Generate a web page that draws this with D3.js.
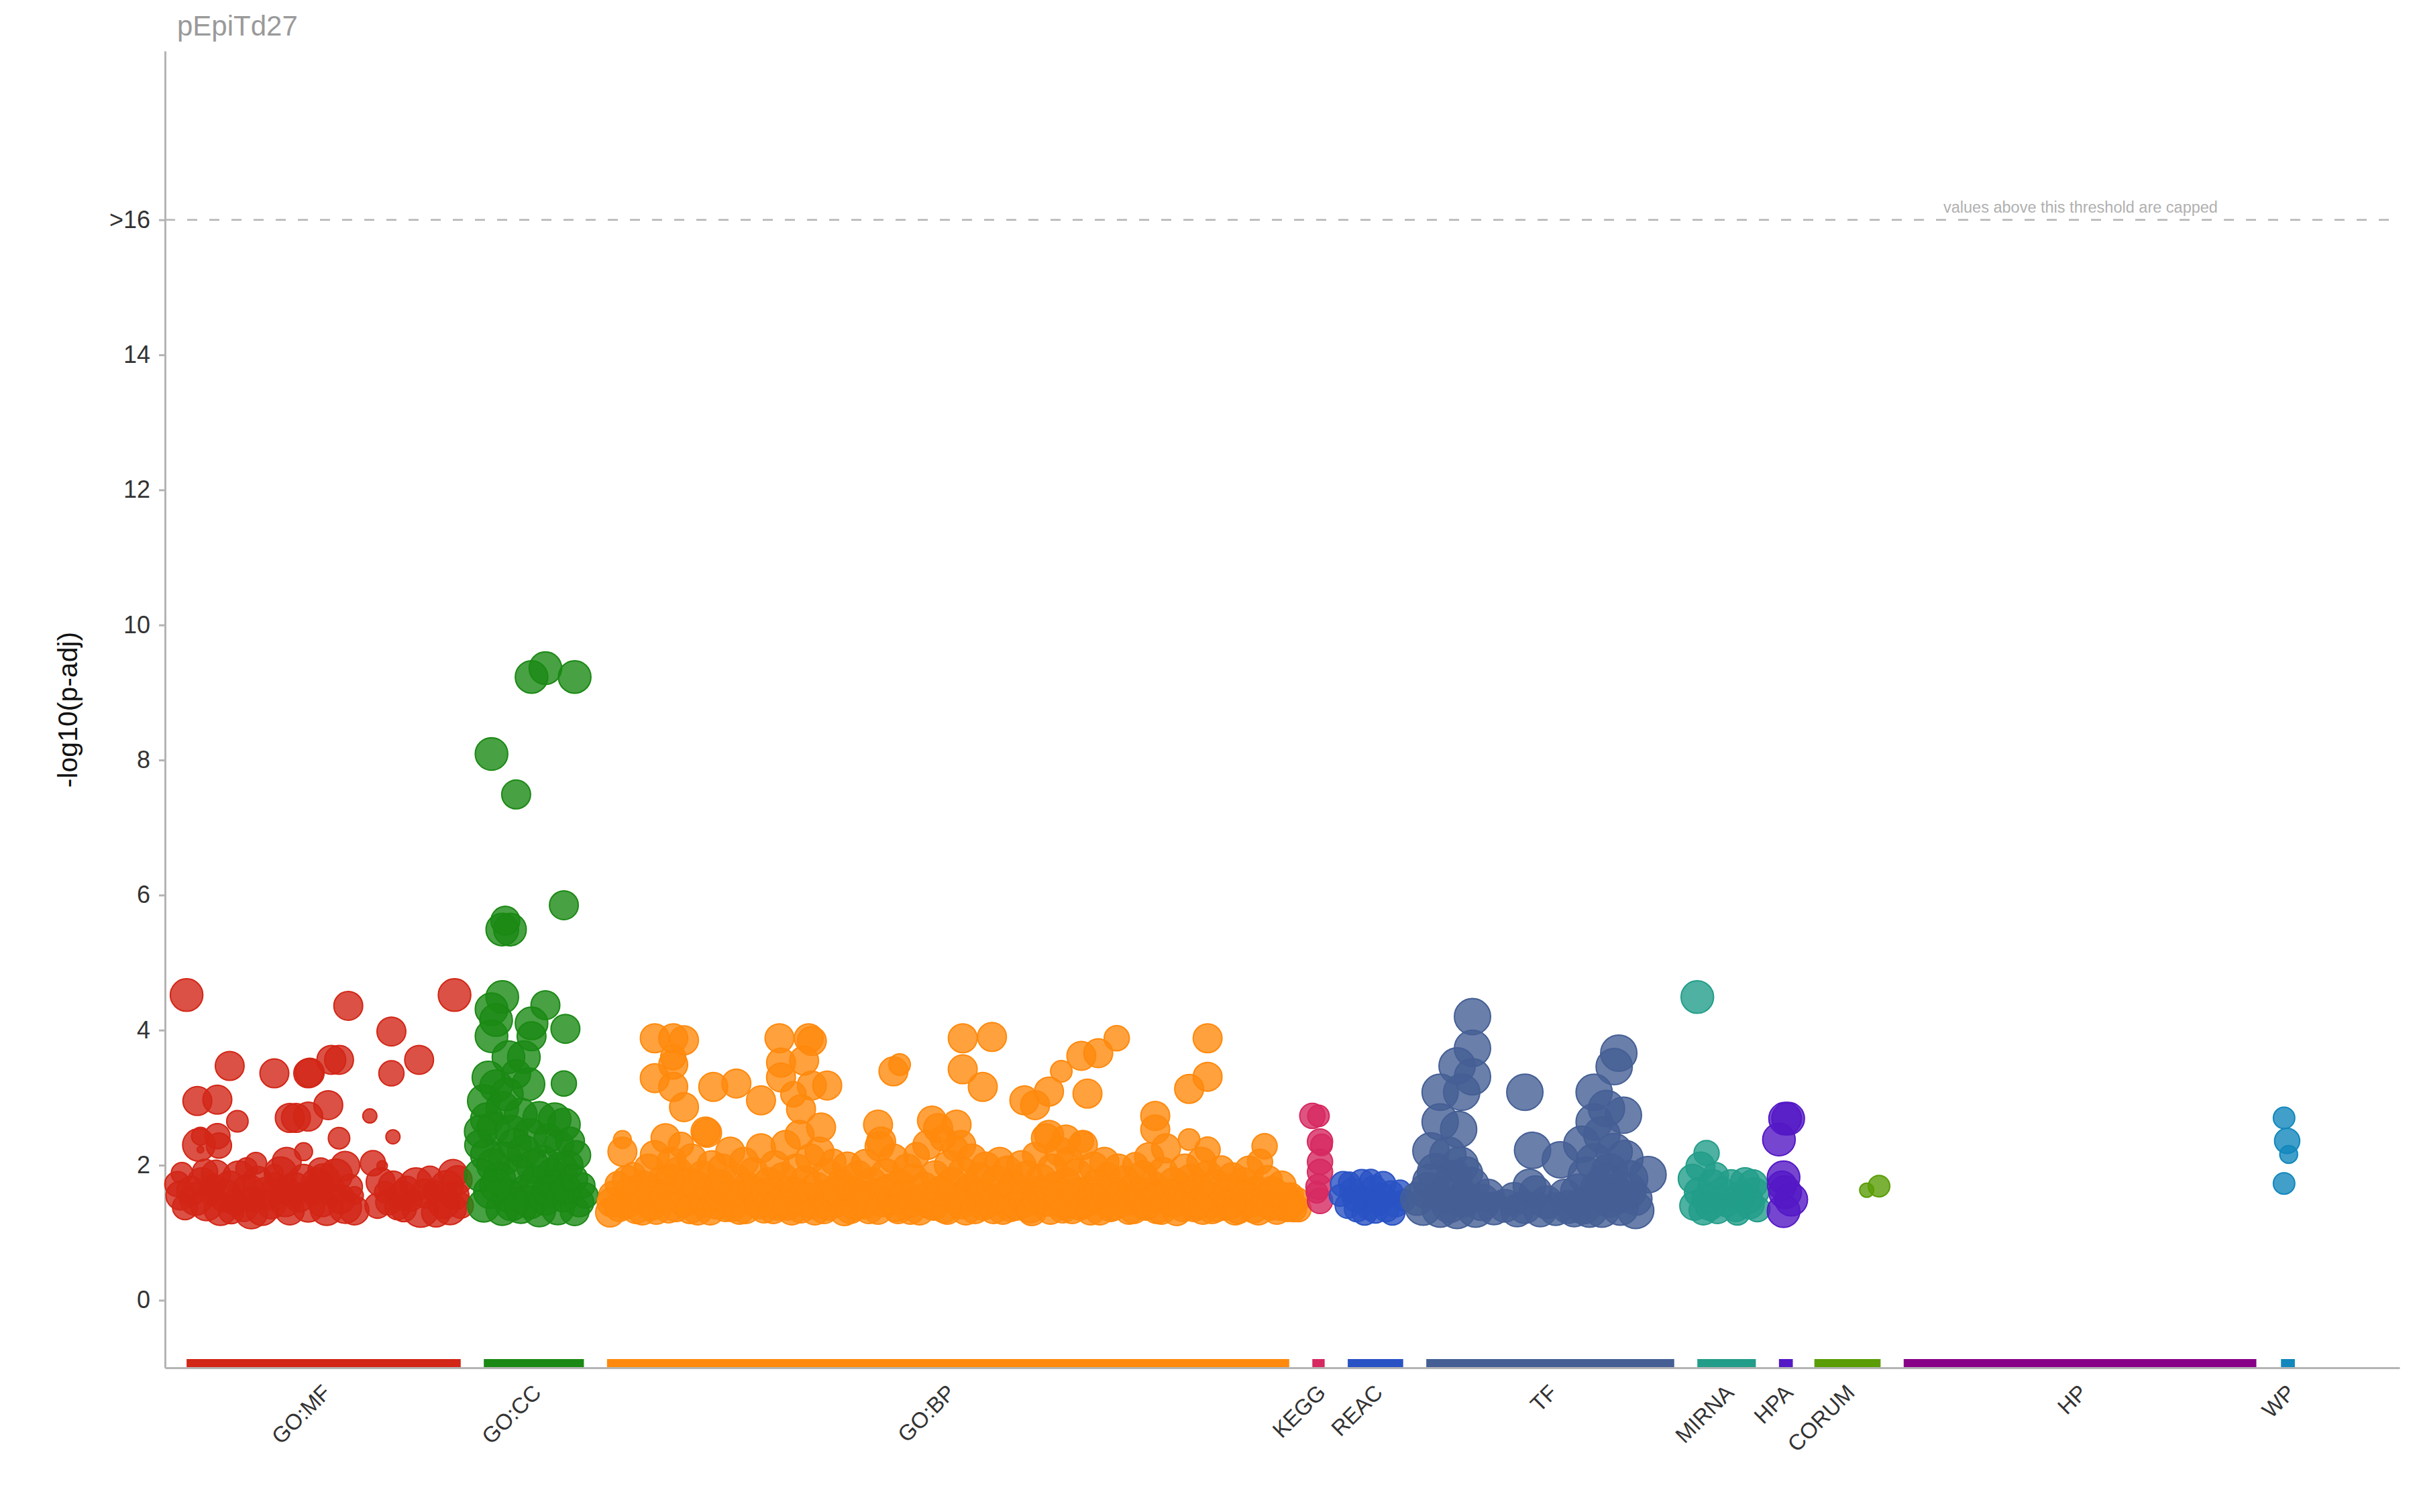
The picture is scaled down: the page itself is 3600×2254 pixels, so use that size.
<!DOCTYPE html>
<html><head><meta charset="utf-8">
<script src="https://cdn.jsdelivr.net/npm/d3@7"></script>
<style>body{margin:0;background:#fff}svg{display:block}</style>
</head><body>
<svg id="chart" width="3600" height="2254"></svg>
<script>
// ---------- data ----------
const chartTitle = "pEpiTd27";
const yAxisTitle = "-log10(p-adj)";
const cappedNote = "values above this threshold are capped";
const capValue = 16;
const yTickValues = [0, 2, 4, 6, 8, 10, 12, 14, 16];
const yTickLabels = ["0", "2", "4", "6", "8", "10", "12", "14", ">16"];
const yDomain = [-1, 18.5];
// term position index along the x axis
const xDomain = [107, 1558];
const sources = ["GO:MF", "GO:CC", "GO:BP", "KEGG", "REAC", "TF", "MIRNA", "HPA", "CORUM", "HP", "WP"];
const sourceStart = [121, 314, 394, 852, 875, 926, 1102, 1155, 1178, 1236, 1481];
const sourceEnd   = [299, 379, 837, 860, 911, 1087, 1140, 1164, 1221, 1465, 1490];
const sourceColors = ["#d22616", "#1a8914", "#ff890c", "#d62961", "#2952c4", "#455f95", "#229d89", "#5418c6", "#5a9d06", "#870087", "#1287bd"];

// each term: [position, -log10(p-adj), size class]
const goMF = [
[121,4.52,8],[226,4.36,7],[254,3.98,7],[295,4.52,8],[149,3.47,7],[178,3.36,7],[200,3.36,7],[201,3.37,7],
[215,3.56,7],[220,3.56,7],[254,3.36,6],[272,3.56,7],[128,2.95,7],[141,2.97,7],[154,2.65,5],[213,2.89,7],
[188,2.70,7],[192,2.70,7],[200,2.72,7],[240,2.73,3],[255,2.42,3],[220,2.40,5],[129,2.30,8],[130,2.43,4],
[141,2.43,6],[142,2.29,6],[130,2.23,1],[166,2.03,5],[197,2.20,4],[186,2.05,7],[224,1.99,7],[242,2.03,6],[248,1.99,2],
[115,1.72,6],[117,1.55,7],[120,1.38,6],[124,1.62,7],[127,1.50,8],[131,1.75,7],[134,1.42,8],[137,1.60,6],
[140,1.86,7],[143,1.35,8],[146,1.55,8],[149,1.70,7],[152,1.45,6],[155,1.82,8],[158,1.38,7],[161,1.62,8],
[164,1.50,6],[167,1.77,7],[170,1.35,8],[173,1.58,8],[176,1.42,7],[179,1.70,6],[182,1.88,8],[185,1.48,8],
[188,1.33,7],[191,1.65,8],[194,1.52,7],[197,1.80,7],[200,1.40,8],[203,1.60,6],[206,1.72,8],[209,1.45,7],
[212,1.35,8],[215,1.62,7],[218,1.85,8],[221,1.50,7],[224,1.38,8],[227,1.68,6],[230,1.55,4],[247,1.75,7],
[250,1.60,5],[252,1.45,6],[255,1.70,7],[258,1.38,6],[261,1.55,7],[264,1.65,6],[267,1.48,5],[270,1.72,8],
[273,1.35,9],[276,1.58,7],[279,1.80,6],[281,1.62,5],[288,1.45,8],[290,1.68,8],[292,1.36,8],[295,1.55,7],
[297,1.78,7],[299,1.40,6],[294,1.87,7],[133,1.90,6],[160,1.95,5],[178,1.88,4],[208,1.92,6],[150,1.32,6],
[230,1.33,7],[118,1.88,5],[138,1.68,6],[163,1.30,8],[185,1.63,7],[210,1.78,8],[262,1.35,6],[283,1.30,7],[245,1.40,6]
];
const goCC = [
[345,9.23,8],[354,9.36,8],[373,9.23,8],[319,8.09,8],[335,7.49,7],[366,5.85,7],[326,5.49,8],[331,5.49,8],[328,5.62,7],
[326,4.49,8],[319,4.31,8],[354,4.37,7],[367,4.02,7],[345,3.91,7],[366,3.21,6],[319,3.91,8],[322,4.15,8],[345,4.10,8],
[330,3.60,8],[340,3.60,8],[322,3.17,8],[343,3.20,8],[335,3.35,7],[316,2.68,8],[360,2.68,8],[366,2.60,8],[311,2.30,7],
[363,2.30,7],[352,2.17,1],[369,2.00,7],[378,1.70,6],
[314,2.95,8],[326,2.85,8],[338,2.75,8],[350,2.70,8],[320,2.55,8],[332,2.50,8],[344,2.45,8],[356,2.40,7],[370,2.35,7],
[316,2.15,8],[328,2.10,8],[340,2.20,8],[352,2.05,8],[364,1.95,8],[374,2.15,7],[312,1.85,8],[324,1.80,8],[336,1.90,8],
[348,1.75,8],[360,1.70,8],[372,1.80,7],[318,1.60,8],[330,1.55,8],[342,1.62,8],[354,1.50,8],[366,1.55,8],[376,1.45,7],
[314,1.40,8],[326,1.35,8],[338,1.38,8],[350,1.33,8],[362,1.36,8],[373,1.32,7],[320,2.00,8],[334,2.30,8],[346,1.98,8],
[358,1.88,7],[368,1.65,7],[322,1.70,8],[344,1.45,8],[332,1.42,8],[356,1.62,8],[317,3.30,8],[329,3.05,8],[312,2.50,8],[380,1.55,6]
];
const goBP = [
[425,3.88,7],[437,3.88,7],[444,3.85,7],[437,3.49,7],[425,3.29,7],[437,3.16,7],[444,2.86,7],[437,3.60,6],[463,3.16,7],
[478,3.21,7],[494,2.96,7],[506,3.88,7],[507,3.52,7],[507,3.30,7],[525,3.88,7],[527,3.84,7],[527,3.18,7],[537,3.18,7],
[520,2.83,7],[533,2.56,7],[522,3.55,7],[515,3.05,6],[459,2.48,7],[404,2.38,4],[404,2.20,7],[580,3.39,7],[584,3.49,5],
[570,2.60,7],[572,2.35,7],[605,2.66,7],[621,2.60,7],[625,3.88,7],[644,3.90,7],[625,3.42,7],[638,3.16,7],[665,2.96,7],
[672,2.89,7],[681,3.09,7],[689,3.39,5],[702,3.62,7],[713,3.66,7],[725,3.88,6],[706,3.06,7],[681,2.45,7],[692,2.38,7],
[703,2.35,5],[750,2.73,7],[750,2.53,7],[772,3.13,7],[784,3.31,7],[784,3.88,7],[772,2.38,5],[784,2.23,6],[821,2.28,6],
[818,2.05,6],[612,2.40,6],[624,2.30,7],
[396,1.30,7],[398,1.55,7],[401,1.72,6],[406,1.42,7],[409,1.62,7],[411,1.85,6],[413,1.35,7],[416,1.50,7],[418,1.70,7],
[421,1.95,7],[423,1.40,7],[425,2.15,7],[427,1.58,7],[430,1.78,7],[432,2.40,7],[434,1.36,7],[436,2.05,7],[438,1.65,7],
[440,1.90,7],[442,2.30,6],[444,1.45,7],[447,1.75,7],[449,2.10,7],[451,1.55,7],[453,1.33,7],[456,1.85,7],[458,2.50,7],
[460,1.62,7],[462,2.00,7],[465,1.42,7],[467,1.72,7],[469,1.95,7],[471,1.38,7],[474,2.20,7],[476,1.58,7],[478,1.80,7],
[480,1.34,7],[483,2.05,7],[485,1.68,7],[487,1.48,7],[489,1.90,7],[492,1.60,7],[494,2.25,7],[496,1.36,7],[499,1.75,7],
[501,1.52,7],[503,2.00,7],[505,1.40,7],[508,1.82,7],[510,2.30,7],[512,1.62,7],[514,1.33,7],[517,1.95,7],[519,2.45,7],
[521,1.55,7],[523,1.78,7],[526,2.10,7],[528,1.42,7],[530,1.68,7],[532,2.20,7],[535,1.35,7],[537,1.88,7],[539,1.58,7],
[541,2.05,6],[544,1.46,7],[546,1.72,7],[548,1.32,7],[550,1.98,7],[553,1.62,7],[555,1.40,7],[557,1.85,7],[559,1.52,7],
[562,2.02,7],[564,1.35,7],[566,1.75,7],[568,1.58,7],[571,2.28,7],[573,1.45,7],[575,1.88,7],[577,1.65,7],[580,2.10,7],
[582,1.38,7],[584,1.72,7],[586,1.55,7],[589,1.95,7],[591,1.34,7],[593,1.80,7],[595,2.15,6],[598,1.50,7],[600,1.68,7],
[602,2.30,7],[604,1.42,7],[607,1.85,7],[609,2.55,7],[611,1.60,7],[613,1.36,7],[616,2.00,7],[618,1.75,7],[620,2.25,6],
[622,1.48,7],[625,1.90,7],[627,1.33,7],[629,1.65,7],[631,2.10,7],[634,1.55,7],[636,1.82,7],[638,1.40,7],[640,1.98,7],
[643,1.62,7],[645,1.35,7],[647,1.78,7],[649,2.05,7],[652,1.50,7],[654,1.92,7],[656,1.38,7],[658,1.70,7],[661,1.58,7],
[663,2.00,7],[665,1.44,7],[667,1.85,7],[670,1.32,7],[672,2.15,6],[674,1.62,7],[676,1.80,7],[679,2.40,7],[681,1.46,7],
[683,1.95,7],[685,1.68,7],[688,2.20,7],[690,1.36,7],[692,1.75,7],[694,2.05,7],[697,1.52,7],[699,1.88,7],[701,1.40,7],
[703,2.30,7],[706,1.62,7],[708,1.33,7],[710,1.98,7],[712,1.72,7],[715,1.48,7],[717,2.05,7],[719,1.85,6],[721,1.38,7],
[724,1.60,7],[726,1.95,7],[728,1.45,7],[730,1.78,7],[733,1.34,7],[735,1.65,7],[737,2.00,6],[739,1.52,7],[742,1.85,7],
[744,1.40,7],[746,2.12,7],[748,1.70,7],[751,1.35,7],[753,1.58,7],[755,1.90,7],[757,2.25,7],[760,1.45,7],[762,1.75,7],
[764,1.32,7],[766,1.62,7],[769,1.95,7],[771,1.48,7],[773,1.80,7],[775,1.38,7],[778,1.68,7],[780,2.05,7],[782,1.55,7],
[784,1.85,7],[787,1.35,7],[789,1.72,7],[791,1.50,7],[793,1.95,6],[796,1.40,7],[798,1.65,7],[800,1.82,7],[802,1.33,7],
[805,1.58,7],[807,1.75,7],[809,1.45,7],[811,1.92,7],[814,1.36,7],[816,1.62,7],[818,1.48,7],[823,1.78,7],[825,1.40,7],
[827,1.58,7],[829,1.34,7],[832,1.70,7],[834,1.45,7],[836,1.38,7],[838,1.55,6],[840,1.35,6],[842,1.48,6],
[397,1.45,7],[402,1.38,7],[407,1.78,7],[412,1.55,7],[417,1.33,7],[422,1.62,7],[426,1.34,7],[431,1.52,7],[435,1.80,7],
[439,1.38,7],[443,1.62,7],[448,1.35,7],[452,1.70,7],[457,1.45,7],[461,1.33,7],[466,1.55,7],[470,1.62,7],[475,1.38,7],
[479,1.55,7],[484,1.35,7],[488,1.62,7],[493,1.42,7],[497,1.58,7],[502,1.35,7],[507,1.48,7],[511,1.40,7],[516,1.60,7],
[520,1.36,7],[525,1.52,7],[529,1.33,7],[534,1.55,7],[538,1.40,7],[543,1.62,7],[547,1.48,7],[552,1.35,7],[556,1.58,7],
[561,1.42,7],[565,1.52,7],[570,1.34,7],[574,1.60,7],[579,1.48,7],[583,1.35,7],[588,1.55,7],[592,1.45,7],[597,1.33,7],
[601,1.52,7],[606,1.40,7],[610,1.62,7],[615,1.34,7],[619,1.50,7],[624,1.42,7],[628,1.55,7],[633,1.35,7],[637,1.58,7],
[642,1.45,7],[646,1.50,7],[651,1.34,7],[655,1.60,7],[660,1.40,7],[664,1.52,7],[669,1.36,7],[673,1.48,7],[678,1.58,7],
[682,1.34,7],[687,1.55,7],[691,1.42,7],[696,1.35,7],[700,1.60,7],[705,1.45,7],[709,1.52,7],[714,1.33,7],[718,1.58,7],
[723,1.40,7],[727,1.55,7],[732,1.48,7],[736,1.35,7],[741,1.60,7],[745,1.42,7],[750,1.52,7],[754,1.34,7],[759,1.58,7],
[763,1.45,7],[768,1.38,7],[772,1.55,7],[777,1.42,7],[781,1.34,7],[786,1.52,7],[790,1.38,7],[795,1.58,7],[799,1.42,7],
[804,1.35,7],[808,1.55,7],[813,1.45,7],[817,1.33,7],[822,1.50,7],[826,1.62,7],[831,1.40,7],[835,1.52,7],[839,1.42,6],[843,1.35,6]
];
const kegg = [[852,2.73,6],[856,2.73,5],[857,2.35,6],[858,2.30,5],[857,2.05,6],[857,1.90,6],[856,1.68,6],[857,1.47,6],[855,1.60,5]];
const reac = [
[872,1.72,6],[875,1.40,6],[878,1.62,6],[881,1.35,6],[884,1.75,6],[887,1.50,6],[889,1.38,6],[892,1.66,6],[895,1.45,6],
[898,1.72,6],[900,1.35,6],[903,1.58,6],[906,1.42,6],[909,1.62,5],[870,1.55,5],[880,1.50,6],[886,1.30,6],[893,1.33,6],
[897,1.55,6],[904,1.30,6],[912,1.48,5],[876,1.74,5],[890,1.78,5]
];
const tf = [
[956,4.20,9],[956,3.73,9],[946,3.47,9],[956,3.31,9],[935,3.08,9],[949,3.08,9],[935,2.64,9],[947,2.53,9],[929,2.21,9],
[940,2.15,9],[948,2.00,9],[932,1.90,9],[944,1.80,9],[955,1.70,9],[927,1.62,9],[938,1.55,9],[950,1.50,9],[962,1.45,9],
[924,1.38,9],[935,1.35,9],[946,1.33,9],[958,1.35,9],[970,1.36,8],[977,1.40,8],[929,1.75,9],[952,1.88,8],[941,1.42,9],
[966,1.55,8],[920,1.50,8],
[990,3.08,9],[995,2.22,9],[1013,2.08,9],[983,1.50,8],[990,1.38,8],[997,1.60,8],[1004,1.45,8],[1010,1.35,8],[1016,1.55,8],
[985,1.33,8],[1000,1.33,8],[1018,1.38,8],[993,1.70,8],
[1051,3.66,9],[1048,3.46,9],[1035,3.08,9],[1043,2.84,9],[1054,2.74,9],[1035,2.64,9],[1027,2.31,9],[1070,1.86,9],[1040,2.45,9],
[1048,2.20,9],[1035,2.05,9],[1055,2.10,9],[1030,1.85,9],[1045,1.90,9],[1058,1.80,9],[1025,1.60,9],[1038,1.65,9],[1050,1.55,9],
[1062,1.50,8],[1028,1.40,9],[1040,1.35,9],[1052,1.38,9],[1062,1.33,9],[1032,1.35,9],[1045,1.50,9],[1057,1.62,9],[1022,1.33,8],[1042,1.75,9]
];
const mirna = [
[1102,4.49,8],[1108,2.18,6],[1104,1.98,7],[1099,1.80,7],[1103,1.60,7],[1100,1.40,7],[1108,1.50,7],[1112,1.72,7],[1115,1.35,7],
[1118,1.60,7],[1121,1.45,7],[1124,1.72,7],[1127,1.38,7],[1130,1.55,7],[1133,1.75,7],[1136,1.42,7],[1139,1.60,7],[1141,1.35,6],
[1106,1.33,7],[1114,1.85,6],[1128,1.30,6],[1135,1.50,7],[1110,1.40,7],[1138,1.72,7]
];
const hpa = [[1159,2.69,8],[1161,2.69,8],[1155,2.38,8],[1158,1.82,8],[1163,1.49,8],[1158,1.32,8],[1159,1.60,8],[1157,1.70,7]];
const corum = [[1212,1.63,3],[1220,1.69,5]];
const hp = [];
const wp = [[1483,2.70,5],[1485,2.36,6],[1486,2.16,4],[1483,1.73,5]];
const sourceTerms = [goMF, goCC, goBP, kegg, reac, tf, mirna, hpa, corum, hp, wp];

// ---------- drawing ----------
const FONT = "'Liberation Sans', Arial, Helvetica, sans-serif";
const svg = d3.select("#chart").style("font-family", FONT);
const plot = {left: 246, right: 3577, top: 76, bottom: 2039};
const x = d3.scaleLinear().domain(xDomain).range([plot.left, plot.right]);
const y = d3.scaleLinear().domain(yDomain).range([plot.bottom, plot.top]);
const r = d3.scaleLinear().domain([1, 9]).range([5, 27]);
const axisGrey = "#b4b4b4";

svg.append("rect").attr("width", 3600).attr("height", 2254).attr("fill", "#fff");

// title
svg.append("text").attr("x", 264).attr("y", 53)
  .attr("font-size", 42).attr("fill", "#9a9a9a").text(chartTitle);

// capped threshold line
svg.append("line")
  .attr("x1", plot.left).attr("x2", 3567)
  .attr("y1", y(capValue)).attr("y2", y(capValue))
  .attr("stroke", axisGrey).attr("stroke-width", 2.5).attr("stroke-dasharray", "15,18");
svg.append("text").attr("x", 2897).attr("y", y(capValue) - 11)
  .attr("font-size", 23.5).attr("fill", "#b0b0b0").text(cappedNote);

// source bars
svg.append("g").selectAll("rect").data(sources).join("rect")
  .attr("x", (d, i) => x(sourceStart[i]))
  .attr("width", (d, i) => x(sourceEnd[i]) - x(sourceStart[i]))
  .attr("y", y(yDomain[0]) - 13).attr("height", 13)
  .attr("fill", (d, i) => sourceColors[i]);

// y axis
const yAxis = svg.append("g").attr("transform", `translate(${plot.left},0)`)
  .call(d3.axisLeft(y).tickValues(yTickValues).tickFormat((d, i) => yTickLabels[i])
    .tickSize(9).tickSizeOuter(0).tickPadding(13));
yAxis.select(".domain").attr("stroke", axisGrey).attr("stroke-width", 3);
yAxis.selectAll(".tick line").attr("stroke", axisGrey).attr("stroke-width", 3);
yAxis.selectAll(".tick text").attr("font-size", 36).attr("fill", "#333").attr("font-family", FONT);

// x axis with source labels
const centers = sources.map((s, i) => (sourceStart[i] + sourceEnd[i]) / 2);
const xAxis = svg.append("g").attr("transform", `translate(0,${y(yDomain[0])})`)
  .call(d3.axisBottom(x).tickValues(centers).tickFormat((d, i) => sources[i])
    .tickSize(0).tickSizeOuter(0));
xAxis.select(".domain").attr("stroke", axisGrey).attr("stroke-width", 3);
xAxis.selectAll(".tick text")
  .attr("font-size", 33).attr("fill", "#333").attr("font-family", FONT)
  .attr("y", 0).attr("dy", "0.35em").attr("text-anchor", "end")
  .attr("transform", "translate(4,31) rotate(-45)");

// y axis title
svg.append("text").attr("transform", "translate(101,1058) rotate(-90)")
  .attr("text-anchor", "middle").attr("dominant-baseline", "central")
  .attr("font-size", 41).attr("fill", "#111").text(yAxisTitle);

// points
const pts = svg.append("g");
sourceTerms.forEach((terms, i) => {
  pts.append("g").selectAll("circle").data(terms).join("circle")
    .attr("cx", d => x(d[0]))
    .attr("cy", d => y(Math.min(d[1], capValue)))
    .attr("r", d => r(d[2]))
    .attr("fill", sourceColors[i]).attr("fill-opacity", 0.8)
    .attr("stroke", sourceColors[i]).attr("stroke-width", 2);
});
</script>
</body></html>
